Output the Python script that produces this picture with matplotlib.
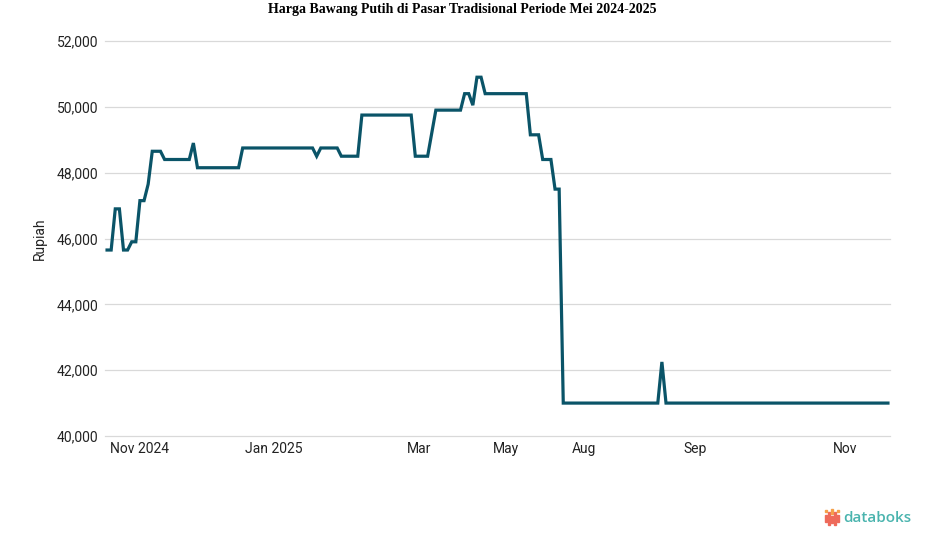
import numpy as np
import matplotlib
matplotlib.use("Agg")
import matplotlib.pyplot as plt
from matplotlib.patches import Rectangle
from matplotlib.ticker import FuncFormatter

plt.rcParams['font.family'] = ['Roboto', 'DejaVu Sans']

# harga per titik pengamatan (run-length: level harga, jumlah titik)
levels = [45650, 46900, 45650, 45900, 47150, 47650, 48650, 48400, 48900, 48150,
          48750, 48500, 48750, 48500, 49750, 48500, 49200, 49900, 50400, 50050,
          50900, 50400, 49150, 48400, 47500, 41000, 42250, 41000]
counts = [2, 2, 2, 2, 2, 1, 3, 7, 1, 11,
          18, 1, 5, 5, 13, 4, 1, 7, 2, 1,
          2, 11, 3, 3, 2, 24, 1, 55]
harga = np.repeat(levels, counts)

tick_pos = [8, 40.5, 76, 97, 116, 143, 179.5]
tick_labels = ['Nov 2024', 'Jan 2025', 'Mar', 'May', 'Aug', 'Sep', 'Nov']

fig = plt.figure(figsize=(9.25, 5.47), dpi=100)
ax = fig.add_axes([105 / 925, 1 - 436 / 547, 785 / 925, 395 / 547])

x = np.arange(len(harga))
ax.plot(x, harga, color='#0a5468', linewidth=2.3, solid_joinstyle='miter')

ax.set_xlim(-0.5, len(harga) - 0.5)
ax.set_ylim(40000, 52000)
ax.set_yticks(range(40000, 52001, 2000))
ax.yaxis.set_major_formatter(FuncFormatter(lambda v, p: f'{int(v):,}'))
ax.set_xticks(tick_pos)
ax.set_xticklabels(tick_labels)
ax.tick_params(axis='both', length=0, labelsize=10, colors='#222222')
ax.tick_params(axis='x', pad=4)
ax.tick_params(axis='y', pad=5)
ax.grid(axis='y', color='#d9d9d9', linewidth=0.9)
for gl in ax.get_ygridlines():
    gl.set_clip_on(False)
ax.set_axisbelow(True)
for s in ax.spines.values():
    s.set_visible(False)

ax.set_ylabel('Rupiah', fontsize=10, color='#222222', labelpad=7)

fig.text(0.5, 1 - 10 / 547, 'Harga Bawang Putih di Pasar Tradisional Periode Mei 2024-2025',
         ha='center', va='center', fontsize=10, fontweight='bold',
         family=['Liberation Serif', 'DejaVu Serif'])

# logo databoks
fig.text(843 / 925, 1 - 518 / 547, 'databoks', ha='left', va='center',
         fontsize=11, fontweight='semibold', color='#4ab4ae',
         family=['Open Sans', 'DejaVu Sans'])
bars = [(825, 515, 522, '#ee6a5a'), (825, 510, 512, '#f5a04a'),
        (828, 512, 525, '#ee6a5a'),
        (831, 509, 514, '#f5a04a'), (831, 516, 523, '#ee6a5a'),
        (834, 512, 525, '#ee6a5a'),
        (837, 515, 522, '#ee6a5a'), (837, 510, 512, '#f5a04a')]
for bx, y0, y1, c in bars:
    fig.patches.append(Rectangle((bx / 925, 1 - y1 / 547), 1.6 / 925, (y1 - y0) / 547,
                                 transform=fig.transFigure, color=c))

fig.savefig('out.png', dpi=100)
